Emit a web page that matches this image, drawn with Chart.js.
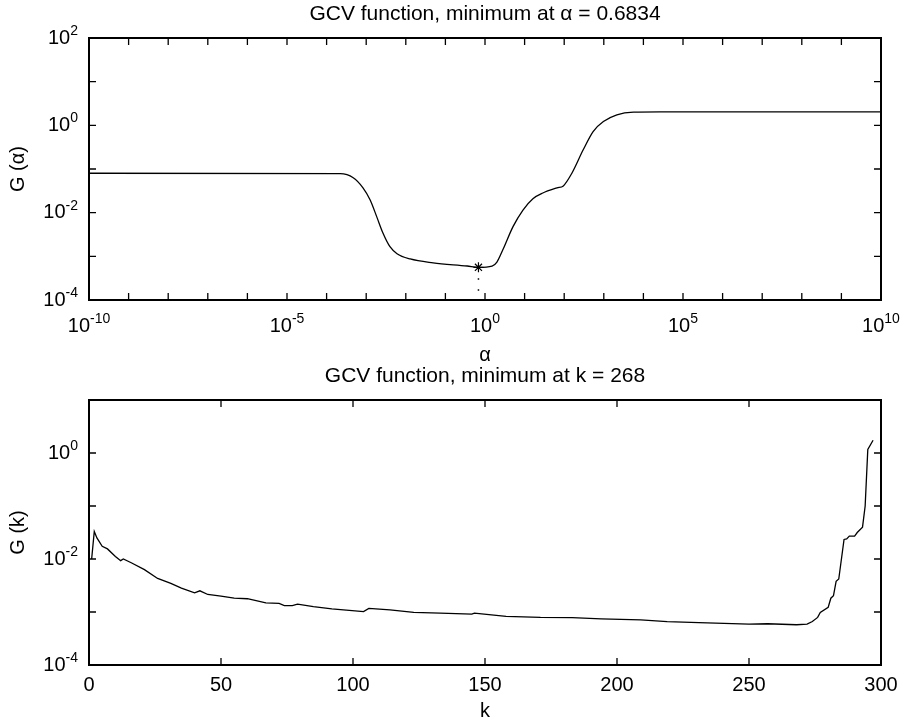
<!DOCTYPE html>
<html>
<head>
<meta charset="utf-8">
<script src="https://cdn.jsdelivr.net/npm/chart.js@4.4.0/dist/chart.umd.min.js"></script>
<style>
  body { margin: 0; background: #fff; }
  .panel { position: absolute; left: 0; width: 910px; }
  #top { top: 0; height: 362px; }
  #bottom { top: 362px; height: 361px; }
</style>
</head>
<body>
<div class="panel" id="top"><canvas id="gcvAlpha"></canvas></div>
<div class="panel" id="bottom"><canvas id="gcvK"></canvas></div>
<script>
// upper panel: G(alpha)
const alphaValues = [1e-10, 2.2e-4, 4.7e-4, 8.3e-4, 1.26e-3, 1.86e-3, 2.63e-3, 3.98e-3, 6.0e-3, 1.29e-2,
    4.9e-2, 0.355, 0.6834, 1.51, 2.0, 2.82, 5.1, 9.1, 16.2, 28.8,
    66, 95, 155, 302, 537, 977, 2140, 5620, 26300, 1e10];
const gAlpha = [0.080, 0.078, 0.063, 0.037, 0.0195, 0.0079, 0.00347, 0.00166, 0.00115, 8.7e-4,
    7.1e-4, 6.0e-4, 5.6e-4, 6.0e-4, 7.4e-4, 1.41e-3, 4.8e-3, 0.0115, 0.0209, 0.0282,
    0.037, 0.041, 0.079, 0.275, 0.72, 1.22, 1.74, 2.0, 2.03, 2.03];
const minAlpha = 0.6834;
const minGAlpha = 5.6e-4;

// lower panel: G(k)
const kValues = [1, 2, 3, 5, 7, 10, 12, 13, 16, 21, 26, 31, 35, 40, 42, 45, 50, 55, 60, 67,
    72, 74, 77, 79, 85, 92, 104, 106, 114, 123, 133, 145, 146, 158, 171, 183, 194, 209, 219, 231,
    250, 257, 268, 272, 274, 276, 277, 280, 281, 282, 283, 284, 286, 287, 288, 290, 291, 293, 294, 295, 297];
const gK = [0.0100, 0.033, 0.025, 0.0174, 0.0155, 0.0112, 0.0093, 0.0100, 0.0085, 0.0063,
    0.0043, 0.00347, 0.00282, 0.00229, 0.00251, 0.00214, 0.0020, 0.00182, 0.00178, 0.00148,
    0.00145, 0.00132, 0.00132, 0.00141, 0.00126, 0.00115, 0.00102, 0.00117, 0.00110, 9.8e-4,
    9.5e-4, 9.1e-4, 9.5e-4, 8.3e-4, 7.9e-4, 7.8e-4, 7.4e-4, 7.1e-4, 6.6e-4, 6.3e-4,
    5.9e-4, 6.0e-4, 5.75e-4, 5.9e-4, 6.6e-4, 7.9e-4, 9.8e-4, 1.23e-3, 1.82e-3, 2.04e-3,
    3.8e-3, 4.2e-3, 0.0234, 0.024, 0.027, 0.027, 0.0316, 0.040, 0.1, 1.17, 1.74];

// ticks (every decade / every 50) and the labelled ones
const alphaTicks = [1e-10, 1e-9, 1e-8, 1e-7, 1e-6, 1e-5, 1e-4, 1e-3, 1e-2, 1e-1, 1,
    10, 100, 1e3, 1e4, 1e5, 1e6, 1e7, 1e8, 1e9, 1e10];
const alphaLabelValues = [1e-10, 1e-5, 1, 1e5, 1e10];
const alphaLabels = ['10^-10', '10^-5', '10^0', '10^5', '10^10'];
const gAlphaTicks = [1e-4, 1e-3, 1e-2, 1e-1, 1, 10, 100];
const gAlphaLabelValues = [1e-4, 1e-2, 1, 100];
const gAlphaLabels = ['10^-4', '10^-2', '10^0', '10^2'];

const kTicks = [0, 50, 100, 150, 200, 250, 300];
const kLabels = ['0', '50', '100', '150', '200', '250', '300'];
const gKTicks = [1e-4, 1e-3, 1e-2, 1e-1, 1, 10];
const gKLabelValues = [1e-4, 1e-2, 1];
const gKLabels = ['10^-4', '10^-2', '10^0'];

const FONT = '"Liberation Sans", Arial, Helvetica, sans-serif';
Chart.defaults.font.family = FONT;
Chart.defaults.color = '#000';

function drawPowerLabel(ctx, text, px, py, align) {
    const [base, exp] = text.split('^');
    ctx.font = '20px ' + FONT;
    const wb = ctx.measureText(base).width;
    let we = 0;
    if (exp) {
        ctx.font = '14px ' + FONT;
        we = ctx.measureText(exp).width;
    }
    const left = align === 'center' ? px - (wb + we) / 2 : px - (wb + we);
    ctx.textAlign = 'left';
    ctx.font = '20px ' + FONT;
    ctx.fillText(base, left, py);
    if (exp) {
        ctx.font = '14px ' + FONT;
        ctx.fillText(exp, left + wb, py - 7);
    }
}

// matlab style box: inward ticks on all four sides + superscript labels
const matlabAxes = {
    id: 'matlabAxes',
    afterDraw(chart, args, opts) {
        const { ctx, chartArea: a } = chart;
        const x = chart.scales.x;
        const y = chart.scales.y;
        ctx.save();
        ctx.strokeStyle = '#000';
        ctx.lineWidth = 1.3;
        ctx.beginPath();
        opts.xTicks.forEach(v => {
            const px = x.getPixelForValue(v);
            ctx.moveTo(px, a.bottom); ctx.lineTo(px, a.bottom - 7);
            ctx.moveTo(px, a.top); ctx.lineTo(px, a.top + 7);
        });
        opts.yTicks.forEach(v => {
            const py = y.getPixelForValue(v);
            ctx.moveTo(a.left, py); ctx.lineTo(a.left + 7, py);
            ctx.moveTo(a.right, py); ctx.lineTo(a.right - 7, py);
        });
        ctx.stroke();
        ctx.lineWidth = 2;
        ctx.strokeRect(a.left, a.top, a.right - a.left, a.bottom - a.top);

        ctx.fillStyle = '#000';
        ctx.textBaseline = 'middle';
        opts.xLabelValues.forEach((v, i) => {
            drawPowerLabel(ctx, opts.xLabels[i], x.getPixelForValue(v), a.bottom + opts.xLabelGap, 'center');
        });
        opts.yLabelValues.forEach((v, i) => {
            drawPowerLabel(ctx, opts.yLabels[i], a.left - 11, y.getPixelForValue(v), 'right');
        });
        ctx.restore();
    }
};

const headFont = { size: 21, weight: 'normal', lineHeight: 1.2 };
const axisFont = { size: 20, weight: 'normal', lineHeight: 1.2 };

new Chart(document.getElementById('gcvAlpha'), {
    type: 'line',
    data: {
        datasets: [
            {
                data: alphaValues.map((a, i) => ({ x: a, y: gAlpha[i] })),
                borderColor: '#000',
                borderWidth: 1.3,
                pointRadius: 0,
                cubicInterpolationMode: 'monotone'
            },
            {
                data: [{ x: minAlpha, y: minGAlpha }],
                showLine: false,
                pointStyle: 'star',
                pointRadius: 5,
                borderColor: '#000',
                borderWidth: 1.2
            },
            {
                data: [{ x: minAlpha, y: minGAlpha }, { x: minAlpha, y: 1e-4 }],
                borderColor: '#000',
                borderWidth: 1.5,
                borderDash: [1.5, 9.5],
                pointRadius: 0
            }
        ]
    },
    options: {
        responsive: true,
        maintainAspectRatio: false,
        animation: false,
        layout: { padding: { right: 29 } },
        plugins: {
            legend: { display: false },
            tooltip: { enabled: false },
            title: {
                display: true,
                fullSize: false,
                text: 'GCV function, minimum at α = 0.6834',
                color: '#000',
                font: headFont,
                padding: { top: 1.5, bottom: 11.3 }
            },
            matlabAxes: {
                xTicks: alphaTicks, xLabelValues: alphaLabelValues, xLabels: alphaLabels, xLabelGap: 26,
                yTicks: gAlphaTicks, yLabelValues: gAlphaLabelValues, yLabels: gAlphaLabels
            }
        },
        scales: {
            x: {
                type: 'logarithmic', min: 1e-10, max: 1e10,
                grid: { display: false }, border: { display: false }, ticks: { display: false },
                title: { display: true, text: 'α', font: { size: 20, lineHeight: 0.7 }, padding: 0 },
                afterFit: s => { s.height = 62; }
            },
            y: {
                type: 'logarithmic', min: 1e-4, max: 100,
                grid: { display: false }, border: { display: false }, ticks: { display: false },
                title: { display: true, text: 'G (α)', font: axisFont, padding: { top: 6, bottom: 0 } },
                afterFit: s => { s.width = 89; }
            }
        }
    },
    plugins: [matlabAxes]
});

new Chart(document.getElementById('gcvK'), {
    type: 'line',
    data: {
        datasets: [
            {
                data: kValues.map((k, i) => ({ x: k, y: gK[i] })),
                borderColor: '#000',
                borderWidth: 1.3,
                pointRadius: 0,
                tension: 0
            }
        ]
    },
    options: {
        responsive: true,
        maintainAspectRatio: false,
        animation: false,
        layout: { padding: { right: 29 } },
        plugins: {
            legend: { display: false },
            tooltip: { enabled: false },
            title: {
                display: true,
                fullSize: false,
                text: 'GCV function, minimum at k = 268',
                color: '#000',
                font: headFont,
                padding: { top: 1.5, bottom: 11.3 }
            },
            matlabAxes: {
                xTicks: kTicks, xLabelValues: kTicks, xLabels: kLabels, xLabelGap: 20,
                yTicks: gKTicks, yLabelValues: gKLabelValues, yLabels: gKLabels
            }
        },
        scales: {
            x: {
                type: 'linear', min: 0, max: 300,
                grid: { display: false }, border: { display: false }, ticks: { display: false },
                title: { display: true, text: 'k', font: { size: 20, lineHeight: 1 }, padding: { top: 0, bottom: 2 } },
                afterFit: s => { s.height = 58; }
            },
            y: {
                type: 'logarithmic', min: 1e-4, max: 10,
                grid: { display: false }, border: { display: false }, ticks: { display: false },
                title: { display: true, text: 'G (k)', font: axisFont, padding: { top: 6, bottom: 0 } },
                afterFit: s => { s.width = 89; }
            }
        }
    },
    plugins: [matlabAxes]
});
</script>
</body>
</html>
